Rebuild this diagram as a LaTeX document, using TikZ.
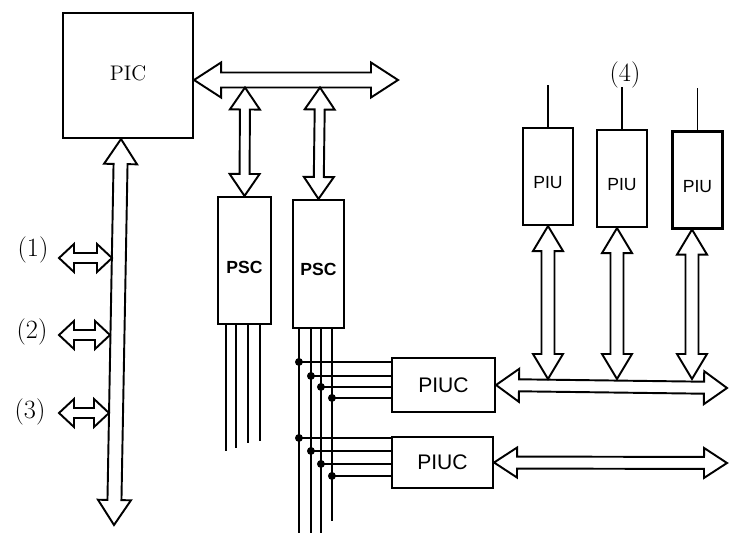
\documentclass[tikz,border=0pt]{standalone}
\usepackage{fontspec}
\newfontfamily\labelsans{Liberation Sans}
\usetikzlibrary{calc, positioning}
\tikzset{
  unit/.style={draw, line width=1.2pt, inner sep=0pt},
  lowtext/.style={text height=#1, text depth=0pt},
  port/.style={font=\fontsize{15}{17}\selectfont, inner sep=0pt},
  wire/.style={line width=1.1pt},
  tap/.style={circle, fill, inner sep=0pt, minimum size=4.5pt},
  bus/.style n args={3}{line width=1.1pt, fill=white,
    to path={
      -- ($(\tikztostart)!#1!(\tikztotarget)!#2!90:(\tikztotarget)$)
      -- ($(\tikztostart)!#1!(\tikztotarget)!#3!90:(\tikztotarget)$)
      -- ($(\tikztotarget)!#1!(\tikztostart)!#3!-90:(\tikztostart)$)
      -- ($(\tikztotarget)!#1!(\tikztostart)!#2!-90:(\tikztostart)$)
      -- (\tikztotarget)
      -- ($(\tikztotarget)!#1!(\tikztostart)!#2!90:(\tikztostart)$)
      -- ($(\tikztotarget)!#1!(\tikztostart)!#3!90:(\tikztostart)$)
      -- ($(\tikztostart)!#1!(\tikztotarget)!#3!-90:(\tikztotarget)$)
      -- ($(\tikztostart)!#1!(\tikztotarget)!#2!-90:(\tikztotarget)$)
      -- cycle}}
}

\begin{document}
\begin{tikzpicture}[x=0.02cm, y=-0.02cm]
  \useasboundingbox (0,0) rectangle (729,533);
  % central controller and its bus
  \node[unit, minimum width=2.6cm, minimum height=2.5cm, font=\large, text depth=0.1cm] (pic) at (128,75.5) {PIC};
  \coordinate (busR) at (398,80);
  \draw[bus={0.54cm}{0.35cm}{0.15cm}] ([yshift=-0.09cm]pic.east) to (busR);
  % PSC units
  \node[unit, minimum width=1.06cm, minimum height=2.54cm, font=\labelsans\bfseries, lowtext=0.53cm] (psc1) at (244.5,260.5) {PSC};
  \node[unit, minimum width=1.02cm, minimum height=2.56cm, font=\labelsans\bfseries, lowtext=0.45cm] (psc2) at (318.5,264) {PSC};
  \coordinate (tapA) at (245,87.5);
  \coordinate (tapB) at (320,87.5);
  \draw[bus={0.44cm}{0.3cm}{0.1cm}] (tapA) to (psc1.north);
  \draw[bus={0.44cm}{0.3cm}{0.1cm}] (tapB) to (psc2.north);
  % vertical bus below PIC
  \coordinate (vbot) at (114,525);
  \draw[bus={0.5cm}{0.33cm}{0.14cm}] ([xshift=-0.14cm]pic.south) to (vbot);
  % external ports
  \foreach \k/\lx/\ly/\ay/\ax in {1/33/250/258/112, 2/32/332/335/110, 3/30/412/413/109} {
    \node[port] (port\k) at (\lx,\ly) {(\k)};
    \coordinate (ext\k) at (59,\ay);
    \coordinate (stub\k) at (\ax,\ay);
    \draw[bus={0.3cm}{0.28cm}{0.1cm}] (ext\k) to (stub\k);
  }
  % PSC leads
  \foreach \dx/\len in {0.18/126, 0.38/123, 0.62/118, 0.86/116}
    \draw[wire] ([xshift=\dx cm]psc1.south west) -- ++(0,\len);
  \foreach \i/\dx/\len in {1/0.14/205, 2/0.38/205, 3/0.58/205, 4/0.8/192}
    \draw[wire] ([xshift=\dx cm]psc2.south west) coordinate (lead\i) -- ++(0,\len);
  % PIUC units
  \node[unit, minimum width=2.06cm, minimum height=1.08cm, font=\labelsans\large] (piuc1) at (443.5,385) {PIUC};
  \node[unit, minimum width=2.02cm, minimum height=1.02cm, font=\labelsans\large] (piuc2) at (442.5,462.5) {PIUC};
  \foreach \i/\dy in {1/0.1, 2/0.38, 3/0.6, 4/0.82} {
    \coordinate (ha) at ([yshift=-\dy cm]piuc1.north west);
    \draw[wire] (ha) -- (lead\i |- ha) node[tap] {};
  }
  \foreach \i/\dy in {1/0.04, 2/0.3, 3/0.56, 4/0.8} {
    \coordinate (hb) at ([yshift=-\dy cm]piuc2.north west);
    \draw[wire] (hb) -- (lead\i |- hb) node[tap] {};
  }
  \coordinate (out1) at (727,388);
  \coordinate (out2) at (727,463);
  \draw[bus={0.46cm}{0.33cm}{0.12cm}] (piuc1.east) to (out1);
  \draw[bus={0.46cm}{0.3cm}{0.12cm}] (piuc2.east) to (out2);
  % PIU units
  \foreach \n/\x/\y/\ax in {1/548/176.5/548, 2/622/178.5/617, 3/697.5/180/692} {
    \node[unit, minimum width=1cm, minimum height=1.94cm, font=\labelsans, lowtext=0.5cm] (piu\n) at (\x,\y) {PIU};
    \draw[wire] (piu\n.north) -- ++(0,-42);
    \coordinate (drop\n) at (\ax,379);
    \draw[bus={0.5cm}{0.3cm}{0.13cm}] (piu\n.south -| drop\n) to (drop\n);
  }
  \node[port] (tag4) at (625,75) {(4)};
\end{tikzpicture}
\end{document}
